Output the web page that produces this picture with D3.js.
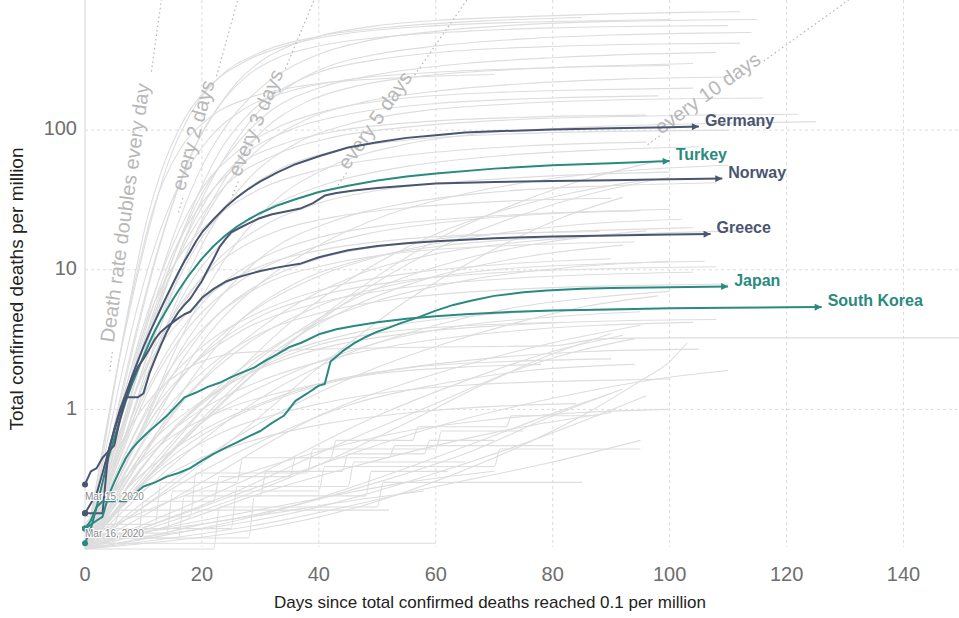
<!DOCTYPE html>
<html>
<head>
<meta charset="utf-8">
<script src="https://cdn.jsdelivr.net/npm/d3@7"></script>
<style>
  body { margin: 0; background: #fff; }
  svg { display: block; font-family: "Liberation Sans", Arial, Helvetica, sans-serif; }
</style>
</head>
<body>
<svg id="chart" width="959" height="618"></svg>
<script>
// Axis ticks
const xTicks = [0, 20, 40, 60, 80, 100, 120, 140];
const yTicks = [1, 10, 100];

// Highlighted countries: [days since 0.1 deaths per million, deaths per million]
const germany = [[0,0.29],[1,0.36],[2,0.38],[3,0.45],[4,0.5],[5,0.72],[6,1.0],[7,1.3],[8,1.7],[9,2.2],[10,2.8],[11,3.5],[12,4.3],[13,5.3],[14,6.5],[15,7.9],[16,9.6],[17,11.5],[18,13.5],[19,16],[20,18.5],[22,23],[24,28],[26,33],[28,38],[30,43],[33,50],[36,57],[40,65],[45,75],[50,82],[55,88],[60,92],[65,96],[70,98],[80,101],[90,103],[100,105],[105,106]];
const turkey = [[0,0.14],[1,0.16],[2,0.2],[3,0.3],[4,0.45],[5,0.62],[6,0.85],[7,1.15],[8,1.5],[9,1.9],[10,2.4],[11,3.0],[12,3.7],[13,4.4],[14,5.2],[15,6.1],[16,7.1],[17,8.2],[18,9.4],[19,10.6],[20,12],[22,14.8],[24,17.6],[26,20.4],[28,23],[30,25.5],[33,29],[36,32],[40,36],[45,40],[50,43.5],[55,46.5],[60,49],[70,53],[80,56],[90,58],[100,60]];
const norway = [[0,0.18],[3,0.18],[4,0.5],[5,0.55],[6,0.85],[7,1.22],[8,1.22],[9,1.22],[10,1.3],[11,1.8],[12,2.3],[13,2.9],[14,3.6],[15,4.3],[16,5.0],[17,5.6],[18,6.2],[19,7.2],[20,8.3],[21,10],[22,12],[23,14.5],[24,16.5],[25,18.5],[26,19.5],[28,21.5],[30,23.5],[32,25],[35,26.5],[37,27.6],[39,30],[41,34],[43,35.5],[46,37],[50,38.5],[55,40],[60,41.5],[70,42.5],[80,43.2],[90,43.8],[100,44.4],[109,45]];
const greece = [[0,0.18],[2,0.25],[3,0.35],[4,0.5],[5,0.7],[6,0.95],[7,1.2],[8,1.6],[9,2.0],[10,2.3],[11,2.7],[12,3.2],[13,3.6],[14,3.9],[15,4.2],[16,4.5],[17,4.8],[18,5.0],[19,5.6],[20,6.3],[22,7.3],[24,8.2],[26,8.8],[28,9.3],[30,9.8],[33,10.4],[37,11.1],[40,12.3],[45,13.8],[50,14.8],[55,15.5],[60,16],[70,16.8],[80,17.3],[90,17.6],[100,17.9],[107,18]];
const japan = [[0,0.11],[1,0.14],[2,0.2],[3,0.22],[7,0.22],[8,0.24],[10,0.28],[12,0.3],[14,0.33],[16,0.35],[18,0.38],[20,0.43],[22,0.48],[24,0.53],[26,0.58],[28,0.64],[30,0.7],[32,0.8],[34,0.9],[36,1.15],[38,1.3],[40,1.48],[41,1.52],[42,2.2],[44,2.6],[46,2.97],[48,3.3],[50,3.6],[52,3.85],[54,4.15],[57,4.56],[60,5.1],[63,5.6],[66,6.0],[70,6.5],[75,6.9],[79,7.1],[85,7.3],[90,7.4],[100,7.5],[110,7.6]];
const southKorea = [[0,0.14],[2,0.16],[3,0.17],[4,0.24],[5,0.3],[6,0.37],[7,0.45],[8,0.52],[9,0.58],[10,0.64],[11,0.7],[12,0.76],[14,0.9],[16,1.1],[17,1.22],[19,1.32],[21,1.45],[23,1.55],[25,1.7],[27,1.85],[29,2.0],[31,2.25],[33,2.5],[35,2.8],[37,3.0],[40,3.45],[43,3.75],[46,3.95],[50,4.2],[55,4.45],[60,4.65],[65,4.8],[71,4.95],[80,5.1],[90,5.2],[100,5.3],[110,5.35],[120,5.38],[126,5.4]];

// Other countries, drawn in light grey
const otherCountries = [
  [[0,0.1],[3,0.3],[6,1.2],[9,4],[12,12],[15,30],[18,65],[22,130],[26,220],[30,310],[35,400],[40,470],[50,560],[60,610],[75,650],[90,680],[105,700],[112,705]],
  [[0,0.1],[4,0.4],[8,1.8],[12,7],[16,22],[20,55],[25,120],[30,200],[35,280],[40,350],[50,450],[60,510],[75,570],[90,600],[105,615],[115,620]],
  [[0,0.12],[4,0.5],[8,2.5],[11,8],[14,22],[17,50],[20,95],[24,170],[28,250],[33,330],[40,400],[50,460],[65,510],[80,540],[95,555],[110,560]],
  [[0,0.1],[5,0.5],[10,2.5],[15,10],[20,32],[25,75],[30,140],[36,220],[42,290],[50,350],[60,400],[75,450],[90,480],[105,495],[114,500]],
  [[0,0.1],[3,0.2],[7,0.9],[11,3.5],[15,12],[19,32],[23,70],[28,130],[34,200],[40,260],[50,320],[62,365],[78,395],[95,412],[112,420]],
  [[0,0.11],[5,0.6],[10,3],[15,12],[20,35],[26,80],[32,140],[40,200],[50,250],[65,300],[80,330],[95,350],[108,360]],
  [[0,0.1],[6,0.5],[12,3],[18,15],[24,45],[30,95],[38,160],[46,205],[58,245],[72,270],[88,288],[104,300]],
  [[0,0.1],[4,0.3],[9,1.5],[14,6],[19,18],[24,40],[30,75],[38,120],[48,160],[60,190],[75,215],[92,232],[110,240]],
  [[0,0.12],[5,0.7],[10,4],[15,15],[20,38],[26,70],[33,105],[42,140],[55,170],[70,186],[88,195],[104,200]],
  [[0,0.1],[7,0.6],[14,4],[21,18],[28,45],[36,80],[45,110],[58,138],[74,155],[92,165],[116,170]],
  [[0,0.1],[6,0.8],[12,5],[18,18],[24,40],[32,65],[42,88],[55,105],[72,118],[95,126],[122,130]],
  [[0,0.11],[8,0.5],[16,3],[24,12],[32,30],[42,55],[54,78],[68,95],[85,105],[105,111],[125,115]],
  [[0,0.1],[2,0.3],[5,1.5],[8,6],[11,20],[14,55],[18,130],[23,240],[30,360],[40,470],[55,560],[70,610],[85,640]],
  [[0,0.1],[3,0.5],[6,2.5],[9,10],[12,30],[16,70],[21,120],[28,170],[38,210],[52,235],[70,250]],
  [[0,0.1],[2,0.25],[4,0.8],[6,2.5],[8,7],[10,18],[13,50],[17,120],[22,220],[28,320],[36,420],[46,500],[60,560],[80,600],[100,620]],
  [[0,0.12],[3,0.4],[6,1.6],[9,5.5],[12,15],[16,40],[21,85],[27,140],[35,190],[45,230],[60,260],[80,280],[100,290]],
  [[0,0.1],[4,0.35],[8,1.3],[12,4.5],[16,13],[21,33],[27,65],[35,100],[45,130],[60,155],[80,170],[98,176]],
  [[0,0.11],[3,0.3],[7,1.2],[11,4.5],[15,13],[20,30],[26,55],[34,80],[44,100],[58,115],[76,124],[96,128]],
  [[0,0.1],[5,0.45],[10,2],[15,7],[20,17],[26,33],[33,52],[42,70],[54,84],[70,93],[90,98],[110,100]],
  [[0,0.1],[6,0.5],[12,2.5],[18,8],[25,18],[33,30],[42,42],[55,55],[70,65],[88,72],[105,76]],
  [[0,0.13],[5,0.4],[10,1.5],[16,5],[22,11],[30,20],[40,30],[52,38],[68,44],[85,48],[100,50]],
  [[0,0.1],[8,0.5],[16,2.5],[24,7],[32,14],[42,22],[55,30],[70,36],[90,40],[108,42]],
  [[0,0.1],[4,0.3],[9,1],[15,3],[22,7],[30,12],[40,17],[52,21],[68,24],[85,26],[100,27]],
  [[0,0.11],[10,0.6],[20,3],[30,8],[40,15],[52,25],[65,35],[80,45],[95,52],[110,56]],
  [[0,0.1],[7,0.4],[14,1.5],[21,4],[30,8],[40,12],[52,15],[66,17.5],[85,19],[104,20]],
  [[0,0.1],[12,0.4],[24,1.5],[36,4.5],[48,10],[60,18],[72,27],[84,36],[96,44]],
  [[0,0.12],[6,0.7],[12,2.8],[18,7],[25,13],[33,19],[43,24],[56,28],[72,31],[90,32.5]],
  [[0,0.1],[15,0.5],[30,2],[45,6],[60,14],[75,25],[90,38],[100,46]],
  [[0,0.1],[9,0.4],[18,1.6],[27,4.5],[36,8],[48,12],[62,15],[80,17],[100,18]],
  [[0,0.1],[5,0.35],[11,1.4],[18,4],[26,8],[36,13],[48,18],[62,22],[78,25],[95,26.5]],
  [[0,0.11],[20,0.8],[35,3],[50,9],[62,18],[74,30],[86,45],[98,60]],
  [[0,0.1],[10,0.5],[22,2],[34,5],[46,9],[60,13],[76,16],[94,18],[112,19]],
  [[0,0.1],[25,0.6],[40,2],[55,6],[70,14],[82,24],[92,33]],
  [[0,0.12],[4,0.5],[8,2],[12,6],[17,14],[23,25],[30,38],[40,52],[55,66],[75,77],[96,82]],
  [[0,0.1],[7,0.5],[14,1.8],[22,4.5],[31,8],[42,11],[56,13.5],[74,15],[94,15.8]],
  [[0,0.13],[9,0.6],[18,2],[28,4.2],[40,6.5],[54,8.3],[70,9.5],[90,10.2],[108,10.5]],
  [[0,0.1],[12,0.5],[24,1.6],[36,3.5],[50,6],[66,8.5],[84,10.5],[100,11.5]],
  [[0,0.11],[6,0.3],[13,0.9],[21,2],[30,3.5],[41,5],[55,6.3],[72,7.2],[92,7.7],[110,7.9]],
  [[0,0.1],[18,0.7],[32,2.5],[46,5.5],[60,9],[76,12.5],[92,15]],
  [[0,0.12],[10,0.7],[20,2.5],[30,5.5],[40,9],[52,13],[66,17],[84,21],[102,23]],
  [[0,0.1],[5,0.5],[10,1.8],[16,4.2],[23,7.5],[31,11],[41,14],[54,16.5],[70,18],[88,18.8]],
  [[0,0.1],[6,0.4],[12,1.2],[20,2.8],[30,5],[42,7.5],[56,9.5],[72,11],[90,12]],
  [[0,0.12],[5,0.3],[11,0.9],[18,2],[27,3.7],[38,5.5],[52,7.2],[68,8.4],[86,9.2],[104,9.6]],
  [[0,0.1],[15,0.6],[28,2],[40,4.5],[52,8],[65,12],[80,16],[96,19]],
  [[0,0.1],[8,0.35],[18,1.3],[28,3],[40,5.5],[54,8],[70,10],[88,11],[106,11.5]],
  [[0,0.1],[15,0.4],[30,1.2],[45,2.5],[60,4],[75,5.5],[90,6.5],[100,7]],
  [[0,0.1],[10,0.3],[20,0.8],[35,1.8],[50,3],[65,4],[80,4.6],[95,5]],
  [[0,0.1],[3,0.25],[6,0.55],[9,0.9],[12,1.3],[16,1.8],[20,2.2],[25,2.5],[30,2.6],[40,2.7],[60,2.8],[80,2.85],[88,3.2],[100,3.25],[150,3.25]],
  [[0,0.1],[20,0.3],[40,0.9],[60,1.8],[80,3],[95,4]],
  [[0,0.11],[8,0.25],[16,0.5],[26,0.9],[38,1.4],[52,1.9],[68,2.3],[86,2.6],[105,2.7]],
  [[0,0.1],[30,0.35],[50,0.9],[65,1.6],[80,2.6],[92,3.4]],
  [[0,0.1],[6,0.2],[14,0.4],[24,0.7],[36,1.0],[50,1.3],[66,1.5],[84,1.6],[100,1.65]],
  [[0,0.13],[10,0.35],[20,0.7],[30,1.1],[42,1.6],[56,2.0],[72,2.2],[90,2.3]],
  [[0,0.1],[40,0.4],[55,0.8],[68,1.5],[80,2.5],[90,3.5]],
  [[0,0.12],[12,0.2],[25,0.32],[40,0.5],[55,0.7],[70,0.85],[85,0.95],[100,1.0]],
  [[0,0.11],[9,0.11],[10,0.22],[22,0.22],[23,0.33],[35,0.33],[36,0.45],[52,0.45],[53,0.55],[80,0.55]],
  [[0,0.13],[14,0.13],[15,0.26],[40,0.26],[41,0.39],[70,0.39],[71,0.52],[95,0.52]],
  [[0,0.11],[60,0.11]],
  [[0,0.14],[25,0.14],[26,0.28],[45,0.28],[46,0.42],[65,0.42]],
  [[0,0.1],[20,0.2],[40,0.4],[60,0.75],[80,1.2],[100,1.7],[110,1.9]],
  [[0,0.1],[15,0.15],[30,0.25],[45,0.38],[60,0.55],[75,0.75],[90,0.95]],
  [[0,0.12],[30,0.18],[50,0.3],[66,0.5],[80,0.9],[92,1.4]],
  [[0,0.17],[18,0.17],[19,0.35],[38,0.35],[39,0.52],[60,0.52],[61,0.7],[75,0.7]],
  [[0,0.1],[10,0.4],[20,1.1],[30,2],[40,2.9],[52,3.6],[66,4],[82,4.2]],
  [[0,0.1],[8,0.3],[16,0.8],[25,1.6],[35,2.6],[47,3.6],[60,4.4],[76,5],[94,5.3]],
  [[0,0.1],[25,0.25],[45,0.6],[60,1.1],[72,1.8],[84,2.6],[94,3.2]],
  [[0,0.1],[50,0.22],[70,0.45],[85,0.9],[95,1.6],[100,2.2],[103,3]],
  [[0,0.1],[35,0.2],[55,0.38],[70,0.65],[82,1.0],[90,1.3]],
  [[0,0.11],[20,0.16],[40,0.23],[55,0.3],[70,0.36]],
  [[0,0.12],[28,0.12],[29,0.24],[48,0.24],[49,0.36],[62,0.36]],
  [[0,0.1],[5,0.25],[12,0.55],[20,1.0],[30,1.6],[42,2.3],[56,3.0],[72,3.6],[88,4.0],[104,4.2]],
  [[0,0.15],[6,0.3],[14,0.6],[24,1.0],[36,1.4],[50,1.8],[64,2.0],[78,2.1]],
  [[0,0.1],[12,0.25],[25,0.6],[38,1.2],[50,2.0],[62,3.0],[74,4.2],[86,5.5],[98,6.5]],
  [[0,0.1],[4,0.2],[10,0.5],[18,1.0],[28,1.8],[40,2.7],[55,3.5],[72,4],[90,4.3],[108,4.4]],
  [[0,0.11],[40,0.2],[60,0.35],[74,0.55],[86,0.85],[96,1.25]],
  [[0,0.1],[10,0.12],[20,0.15],[32,0.18],[45,0.22],[58,0.26]],
  [[0,0.1],[10,0.2],[22,0.4],[34,0.7],[46,1.1],[60,1.5],[76,1.9],[94,2.1]],
  [[0,0.12],[16,0.12],[17,0.24],[30,0.24],[31,0.36],[44,0.36],[45,0.48],[58,0.48],[59,0.6],[70,0.6]],
  [[0,0.1],[22,0.1],[23,0.2],[50,0.2],[51,0.3],[85,0.3]],
  [[0,0.15],[12,0.15],[13,0.3],[26,0.3],[27,0.45],[42,0.45],[43,0.6],[56,0.6],[57,0.75],[72,0.75],[73,0.9],[88,0.9]],
  [[0,0.11],[5,0.18],[12,0.3],[20,0.45],[30,0.62],[42,0.8],[56,0.95],[70,1.05],[84,1.1]],
  [[0,0.1],[30,0.15],[60,0.28],[80,0.42],[95,0.6]],
  [[0,0.15],[5,0.15],[6,0.19],[52,0.19]]
];

// Doubling-time guides: period in days, label, day at which the label starts
const guidePeriods = [1, 2, 3, 5, 10];
const guideLabels = ["Death rate doubles every day", "every 2 days", "every 3 days", "every 5 days", "every 10 days"];
const guideLabelStart = [4.9, 17, 26.5, 45, 98.5];

// Start-date notes
const startNotes = [{ text: "Mar 15, 2020", value: 0.29 }, { text: "Mar 16, 2020", value: 0.11 }];

const slate = "#4a5572", teal = "#2b8a80";
const highlights = [
  { name: "Germany", data: germany, color: slate },
  { name: "Turkey", data: turkey, color: teal },
  { name: "Norway", data: norway, color: slate },
  { name: "Greece", data: greece, color: slate },
  { name: "Japan", data: japan, color: teal },
  { name: "South Korea", data: southKorea, color: teal }
];

const svg = d3.select("#chart");
const W = 959, H = 618;
const x = d3.scaleLinear().domain([0, 150]).range([85, 962]);
const y = d3.scaleLog().domain([0.1, 855]).range([549, 0]);
const plotBottom = 547;

// clip region for the plot
const defs = svg.append("defs");
defs.append("clipPath").attr("id", "plot")
  .append("rect").attr("x", 84).attr("y", 0).attr("width", W - 84).attr("height", plotBottom + 4);

// grid
const grid = svg.append("g");
grid.selectAll("line.v").data(xTicks.filter(d => d > 0)).join("line")
  .attr("x1", d => x(d)).attr("x2", d => x(d)).attr("y1", 0).attr("y2", plotBottom)
  .attr("stroke", "#dcdcdc").attr("stroke-width", 1).attr("stroke-dasharray", "3,3");
grid.selectAll("line.h").data(yTicks).join("line")
  .attr("x1", x(0)).attr("x2", W).attr("y1", d => y(d)).attr("y2", d => y(d))
  .attr("stroke", "#dcdcdc").attr("stroke-width", 1).attr("stroke-dasharray", "3,3");
grid.append("line").attr("x1", x(0)).attr("x2", x(0)).attr("y1", 0).attr("y2", plotBottom)
  .attr("stroke", "#d6d6d6").attr("stroke-width", 1);

const line = d3.line().x(d => x(d[0])).y(d => y(d[1])).curve(d3.curveMonotoneX);
const plot = svg.append("g").attr("clip-path", "url(#plot)");

// grey countries
plot.append("g").selectAll("path").data(otherCountries).join("path")
  .attr("d", line).attr("fill", "none")
  .attr("stroke", "#dddddd").attr("stroke-width", 1.1);

// doubling guides
const guides = svg.append("g");
guidePeriods.forEach((p, i) => {
  const f = d => 0.1 * Math.pow(2, d / p);
  const dTop = p * Math.log2(855 / 0.1);
  const s = guideLabelStart[i];
  const ang = Math.atan2(y(f(s + 1)) - y(f(s)), x(s + 1) - x(s)) * 180 / Math.PI;
  const px = x(s), py = y(f(s));
  const t = guides.append("text").attr("x", 0).attr("y", 0)
    .attr("transform", `translate(${px},${py}) rotate(${ang})`)
    .attr("font-size", 20).attr("fill", "#b8b8b8").text(guideLabels[i]);
  const len = t.node().getComputedTextLength();
  const rad = ang * Math.PI / 180;
  const ex = px + len * Math.cos(rad);
  const dEnd = x.invert(ex) + 0.3;
  const dBefore = x.invert(px - 14 * Math.abs(Math.cos(rad)) - 2);
  const seg = (a, b) => d3.range(0, 41).map(k => { const d = a + (b - a) * k / 40; return [x(d), y(f(d))]; });
  guides.append("path").attr("d", d3.line()(seg(Math.max(0, dBefore), s - 0.15)))
    .attr("fill", "none").attr("stroke", "#b5b5b5").attr("stroke-width", 1.2).attr("stroke-dasharray", "1.5,3");
  guides.append("path").attr("d", d3.line()(seg(dEnd, dTop)))
    .attr("fill", "none").attr("stroke", "#b5b5b5").attr("stroke-width", 1.2).attr("stroke-dasharray", "1.5,3");
});

// arrow markers
[slate, teal].forEach((c, i) => {
  defs.append("marker").attr("id", "arr" + i).attr("viewBox", "0 0 10 10")
    .attr("refX", 10).attr("refY", 5).attr("markerWidth", 8).attr("markerHeight", 7)
    .attr("markerUnits", "userSpaceOnUse").attr("orient", "auto")
    .append("path").attr("d", "M0,0L10,5L0,10Z").attr("fill", c);
});

// highlighted countries
const hl = svg.append("g");
highlights.forEach(h => {
  hl.append("path").datum(h.data).attr("d", d3.line().x(d => x(d[0])).y(d => y(d[1])))
    .attr("fill", "none").attr("stroke", h.color).attr("stroke-width", 2)
    .attr("stroke-linejoin", "round")
    .attr("marker-end", `url(#arr${h.color === slate ? 0 : 1})`);
  const last = h.data[h.data.length - 1];
  hl.append("text").attr("x", x(last[0]) + 6).attr("y", y(last[1]) - 5)
    .attr("dominant-baseline", "middle").attr("font-size", 16).attr("font-weight", "bold")
    .attr("fill", h.color).text(h.name);
  hl.append("circle").attr("cx", x(h.data[0][0])).attr("cy", y(h.data[0][1])).attr("r", 3)
    .attr("fill", h.color);
});

// start notes
svg.append("g").selectAll("text").data(startNotes).join("text")
  .attr("x", x(0)).attr("y", (d, i) => i === 0 ? y(d.value) + 13 : y(d.value) - 9)
  .attr("dominant-baseline", "middle").attr("font-size", 10).attr("fill", "#8a8a8a")
  .attr("stroke", "#fff").attr("stroke-width", 2).attr("paint-order", "stroke")
  .text(d => d.text);

// tick labels
svg.append("g").selectAll("text").data(xTicks).join("text")
  .attr("x", d => x(d)).attr("y", 576).attr("text-anchor", "middle").attr("dominant-baseline", "middle")
  .attr("font-size", 20).attr("fill", "#6e6e6e").text(d => d);
svg.append("g").selectAll("text").data(yTicks).join("text")
  .attr("x", 77).attr("y", d => y(d)).attr("text-anchor", "end").attr("dominant-baseline", "middle")
  .attr("font-size", 20).attr("fill", "#6e6e6e").text(d => d);

// axis titles
svg.append("text").attr("x", 490).attr("y", 604).attr("text-anchor", "middle").attr("dominant-baseline", "middle")
  .attr("font-size", 17).attr("fill", "#222").text("Days since total confirmed deaths reached 0.1 per million");
svg.append("text").attr("transform", "translate(18,289) rotate(-90)").attr("text-anchor", "middle")
  .attr("dominant-baseline", "middle").attr("font-size", 19).attr("fill", "#222")
  .text("Total confirmed deaths per million");
</script>
</body>
</html>
